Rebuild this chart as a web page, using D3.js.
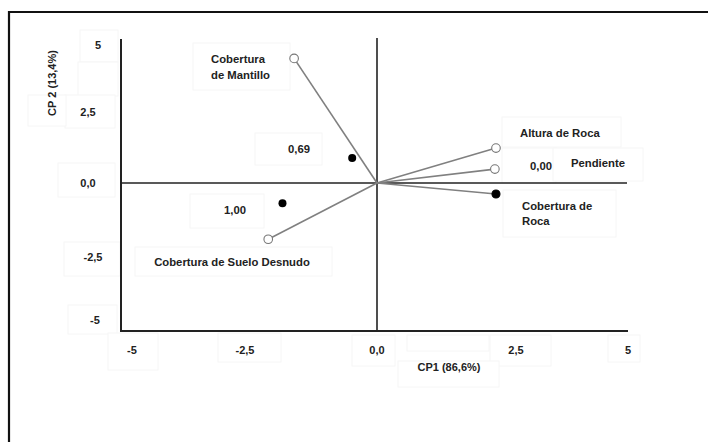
<!DOCTYPE html>
<html>
<head>
<meta charset="utf-8">
<script src="https://cdn.jsdelivr.net/npm/d3@7"></script>
<style>
  html, body { margin: 0; padding: 0; background: #fff; }
  svg { display: block; }
  text { font-family: "Liberation Sans", Arial, sans-serif; font-weight: bold; fill: #222; }
</style>
</head>
<body>
<svg id="chart" width="708" height="442"></svg>
<script>
// Axis ticks
const xTicks = [-5, -2.5, 0, 2.5, 5];
const yTicks = [-5, -2.5, 0, 2.5, 5];
const xTickLabels = ["-5", "-2,5", "0,0", "2,5", "5"];
const yTickLabels = ["-5", "-2,5", "0,0", "2,5", "5"];

// Variable loadings (drawn as vectors from the origin)
const varNames = ["Cobertura de Mantillo", "Altura de Roca", "Pendiente", "Cobertura de Roca", "Cobertura de Suelo Desnudo"];
const varCP1 = [-1.57, 2.14, 2.12, 2.14, -2.06];
const varCP2 = [4.5, 1.23, 0.49, -0.37, -1.9];
const varFilled = [false, false, false, true, false];

// Sample scores
const sampleLabels = ["0,69", "1,00"];
const sampleCP1 = [-0.47, -1.79];
const sampleCP2 = [0.88, -0.68];

const svg = d3.select("#chart");

// Piecewise scales following the tick layout of the figure
const x = d3.scaleLinear().domain(xTicks).range([132, 245, 377, 516, 628]);
const y = d3.scaleLinear().domain(yTicks).range([320, 257, 183, 112, 45]);

// Outer frame (top and left edges)
svg.append("path")
  .attr("d", "M9,445 V12 H712")
  .attr("fill", "none").attr("stroke", "#111").attr("stroke-width", 2.2);

// Faint label boxes
function box(x0, y0, x1, y1) {
  svg.append("rect").attr("x", x0).attr("y", y0)
    .attr("width", x1 - x0).attr("height", y1 - y0)
    .attr("fill", "#fff").attr("stroke", "#f6f6f6").attr("stroke-width", 1);
}
// y tick boxes
box(80, 30, 118, 62);
box(78, 62, 118, 96);
box(65, 95, 115, 128);
box(28, 95, 66, 126);
box(58, 163, 115, 197);
box(64, 242, 120, 276);
box(68, 305, 117, 334);
// x tick boxes
box(108, 333, 158, 370);
box(218, 333, 281, 362);
box(352, 335, 395, 366);
box(407, 335, 489, 351);
box(490, 335, 551, 366);
box(608, 335, 640, 362);
box(398, 361, 499, 387);
// variable / sample label boxes
box(193, 43, 290, 90);
box(255, 133, 322, 165);
box(190, 194, 264, 228);
box(135, 247, 332, 276);
box(502, 117, 621, 147);
box(502, 148, 556, 183);
box(553, 148, 643, 181);
box(503, 190, 616, 237);

// Axis frame
const axisColor = "#222";
svg.append("line").attr("x1", 121).attr("x2", 121).attr("y1", 39).attr("y2", 332)
  .attr("stroke", axisColor).attr("stroke-width", 2);
svg.append("line").attr("x1", 120).attr("x2", 628).attr("y1", 331).attr("y2", 331)
  .attr("stroke", axisColor).attr("stroke-width", 2);
// zero lines
svg.append("line").attr("x1", 121).attr("x2", 627).attr("y1", y(0)).attr("y2", y(0))
  .attr("stroke", axisColor).attr("stroke-width", 1.6);
svg.append("line").attr("x1", x(0)).attr("x2", x(0)).attr("y1", 38).attr("y2", 331)
  .attr("stroke", axisColor).attr("stroke-width", 1.6);

// Tick labels
svg.selectAll(".xt").data(xTicks).enter().append("text")
  .attr("x", d => x(d)).attr("y", 354)
  .attr("text-anchor", "middle").attr("font-size", 11)
  .text((d, i) => xTickLabels[i]);
svg.selectAll(".yt").data(yTicks).enter().append("text")
  .attr("x", (d, i) => [95, 93, 88, 88, 98][i]).attr("y", d => y(d) + 4)
  .attr("text-anchor", "middle").attr("font-size", 11)
  .text((d, i) => yTickLabels[i]);

// Axis titles
svg.append("text").attr("x", 449).attr("y", 371).attr("text-anchor", "middle")
  .attr("font-size", 11).text("CP1 (86,6%)");
svg.append("text").attr("transform", "translate(56,83) rotate(-90)")
  .attr("text-anchor", "middle").attr("font-size", 11).text("CP 2 (13,4%)");

// Loading vectors
const vars = varNames.map((n, i) => ({ name: n, cp1: varCP1[i], cp2: varCP2[i], filled: varFilled[i] }));
svg.selectAll(".vec").data(vars).enter().append("line")
  .attr("x1", x(0)).attr("y1", y(0))
  .attr("x2", d => x(d.cp1)).attr("y2", d => y(d.cp2))
  .attr("stroke", "#808080").attr("stroke-width", 1.6);
svg.selectAll(".vpt").data(vars).enter().append("circle")
  .attr("cx", d => x(d.cp1)).attr("cy", d => y(d.cp2))
  .attr("r", d => d.filled ? 4 : 4.3)
  .attr("fill", d => d.filled ? "#000" : "#fff")
  .attr("stroke", d => d.filled ? "#000" : "#777")
  .attr("stroke-width", 1.1);

// Sample points
const samples = sampleLabels.map((l, i) => ({ label: l, cp1: sampleCP1[i], cp2: sampleCP2[i] }));
svg.selectAll(".spt").data(samples).enter().append("circle")
  .attr("cx", d => x(d.cp1)).attr("cy", d => y(d.cp2))
  .attr("r", 4).attr("fill", "#000");

// Text labels
const labels = [
  { t: "Cobertura", x: 211, y: 63, a: "start" },
  { t: "de Mantillo", x: 211, y: 79, a: "start" },
  { t: sampleLabels[0], x: 299, y: 153, a: "middle" },
  { t: sampleLabels[1], x: 235, y: 214, a: "middle" },
  { t: "Cobertura de Suelo Desnudo", x: 232, y: 266, a: "middle" },
  { t: "Altura de Roca", x: 520, y: 137, a: "start" },
  { t: "0,00", x: 541, y: 170, a: "middle" },
  { t: "Pendiente", x: 571, y: 167, a: "start" },
  { t: "Cobertura de", x: 522, y: 210, a: "start" },
  { t: "Roca", x: 522, y: 225, a: "start" }
];
svg.selectAll(".lbl").data(labels).enter().append("text")
  .attr("x", d => d.x).attr("y", d => d.y)
  .attr("text-anchor", d => d.a).attr("font-size", 11.3)
  .text(d => d.t);
</script>
</body>
</html>
